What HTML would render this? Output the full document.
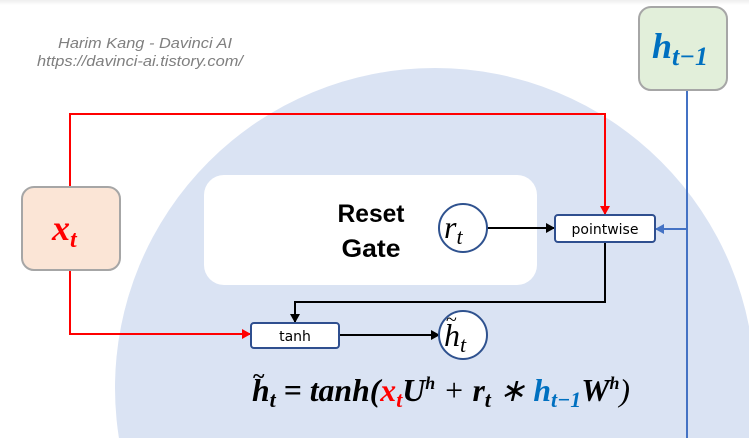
<!DOCTYPE html>
<html><head><meta charset="utf-8"><style>
html,body{margin:0;padding:0;background:#fff;width:749px;height:438px;overflow:hidden;}
svg{display:block;}
</style></head><body>
<svg width="749" height="438" viewBox="0 0 749 438" xmlns="http://www.w3.org/2000/svg">
<defs>
<linearGradient id="tg" x1="0" y1="0" x2="0" y2="1"><stop offset="0" stop-color="#eee"/><stop offset="1" stop-color="#fff"/></linearGradient>
<marker id="ak" markerWidth="10" markerHeight="10" refX="8" refY="5" orient="auto" markerUnits="userSpaceOnUse"><path d="M0,0 L9,5 L0,10 z" fill="#000"/></marker>
<marker id="ar" markerWidth="10" markerHeight="10" refX="8" refY="5" orient="auto" markerUnits="userSpaceOnUse"><path d="M0,0 L9,5 L0,10 z" fill="#ff0000"/></marker>
<marker id="ab" markerWidth="10" markerHeight="10" refX="8" refY="5" orient="auto" markerUnits="userSpaceOnUse"><path d="M0,0 L9,5 L0,10 z" fill="#4472c4"/></marker>
</defs>
<rect x="0" y="0" width="749" height="5" fill="url(#tg)"/>
<circle cx="435" cy="388" r="320" fill="#dae3f3"/>
<text x="145" y="48" text-anchor="middle" font-family="Liberation Sans, sans-serif" font-style="italic" font-size="15" fill="#7f7f7f" textLength="174" lengthAdjust="spacingAndGlyphs">Harim Kang - Davinci AI</text>
<text x="140" y="66" text-anchor="middle" font-family="Liberation Sans, sans-serif" font-style="italic" font-size="15" fill="#7f7f7f" textLength="206" lengthAdjust="spacingAndGlyphs">https://davinci-ai.tistory.com/</text>

<rect x="204" y="175" width="333" height="110" rx="20" fill="#fff"/>
<text x="371" y="222" text-anchor="middle" font-family="Liberation Sans, sans-serif" font-weight="bold" font-size="25" textLength="67" lengthAdjust="spacingAndGlyphs">Reset</text>
<text x="371" y="257" text-anchor="middle" font-family="Liberation Sans, sans-serif" font-weight="bold" font-size="25" textLength="59" lengthAdjust="spacingAndGlyphs">Gate</text>

<polyline points="70,187 70,114 605,114 605,214" fill="none" stroke="#ff0000" stroke-width="2" marker-end="url(#ar)"/>
<polyline points="70,270 70,334 250,334" fill="none" stroke="#ff0000" stroke-width="2" marker-end="url(#ar)"/>
<line x1="687" y1="90" x2="687" y2="438" stroke="#4472c4" stroke-width="2"/>
<line x1="687" y1="229" x2="656" y2="229" stroke="#4472c4" stroke-width="2" marker-end="url(#ab)"/>
<line x1="487" y1="228" x2="554" y2="228" stroke="#000" stroke-width="2" marker-end="url(#ak)"/>
<polyline points="605,242 605,302 295,302 295,322" fill="none" stroke="#000" stroke-width="2" marker-end="url(#ak)"/>
<line x1="339" y1="335" x2="439" y2="335" stroke="#000" stroke-width="2" marker-end="url(#ak)"/>

<rect x="639" y="7" width="88" height="83" rx="12" fill="#e2efda" stroke="#a6a6a6" stroke-width="2"/>
<text x="652" y="58" font-family="Liberation Serif, serif" font-weight="bold" font-style="italic" font-size="36" fill="#0070c0">h<tspan font-size="26" dy="7">t−1</tspan></text>

<rect x="22" y="187" width="98" height="83" rx="12" fill="#fbe5d6" stroke="#a6a6a6" stroke-width="2"/>
<text x="52" y="240" font-family="Liberation Serif, serif" font-weight="bold" font-style="italic" font-size="36" fill="#ff0000">x<tspan font-size="24" dy="7">t</tspan></text>

<rect x="555" y="215" width="100" height="27" rx="3" fill="#fff" stroke="#2f4f8f" stroke-width="2"/>
<text x="605" y="234" text-anchor="middle" font-family="DejaVu Sans, sans-serif" font-size="14">pointwise</text>
<rect x="251" y="323" width="88" height="25" rx="3" fill="#fff" stroke="#2f4f8f" stroke-width="2"/>
<text x="295" y="341" text-anchor="middle" font-family="DejaVu Sans, sans-serif" font-size="14">tanh</text>

<circle cx="463" cy="228" r="24" fill="#fff" stroke="#2f528f" stroke-width="2"/>
<text x="444" y="238" font-family="Liberation Serif, serif" font-style="italic" font-size="32">r<tspan font-size="22" dy="6">t</tspan></text>
<circle cx="463" cy="335" r="24" fill="#fff" stroke="#2f528f" stroke-width="2"/>
<text x="444" y="346" font-family="Liberation Serif, serif" font-style="italic" font-size="32">h<tspan font-size="22" dy="6">t</tspan></text>
<text x="446" y="326" font-family="Liberation Serif, serif" font-size="20">~</text>

<text x="252" y="401" font-family="Liberation Serif, serif" font-weight="bold" font-style="italic" font-size="32" textLength="378" lengthAdjust="spacingAndGlyphs">h<tspan font-size="22" dy="6">t</tspan><tspan dy="-6"> = tanh(</tspan><tspan fill="#ff0000">x</tspan><tspan fill="#ff0000" font-size="22" dy="6">t</tspan><tspan dy="-6">U</tspan><tspan font-size="18" dy="-12">h</tspan><tspan dy="12" font-weight="normal"> + </tspan><tspan>r</tspan><tspan font-size="22" dy="6">t</tspan><tspan dy="-6" font-weight="normal"> ∗ </tspan><tspan fill="#0070c0">h</tspan><tspan fill="#0070c0" font-size="22" dy="6">t−1</tspan><tspan dy="-6">W</tspan><tspan font-size="18" dy="-12">h</tspan><tspan dy="12" font-weight="normal">)</tspan></text>
<text x="253" y="383" font-family="Liberation Serif, serif" font-weight="bold" font-size="22">~</text>
</svg>
</body></html>
